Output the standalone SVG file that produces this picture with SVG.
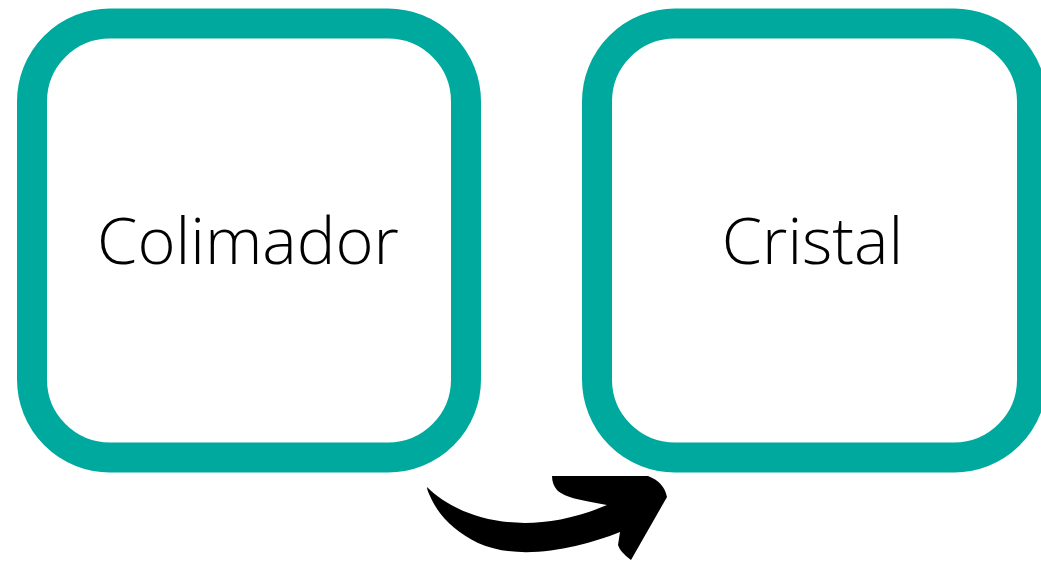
<svg xmlns="http://www.w3.org/2000/svg" width="1041" height="563" viewBox="0 0 1041 563">
<style>
.box{fill:#ffffff;stroke:#00A99D;stroke-width:30}
.lbl{font-family:"Open Sans","Liberation Sans",sans-serif;font-size:65px;font-weight:300;fill:#000;text-anchor:middle}
</style>
<rect width="1041" height="563" fill="#ffffff"/>
<g id="node-colimador">
<rect class="box" x="32" y="23.5" width="434" height="434" rx="78" ry="78"/>
<text class="lbl" x="248" y="264">Colimador</text>
</g>
<g id="node-cristal">
<rect class="box" x="597" y="23.5" width="435" height="434" rx="78" ry="78"/>
<text class="lbl" x="812.5" y="264">Cristal</text>
</g>
<g id="connectors">
<path d="M 427,487 C 458,518 525,540 607,505 C 585,501 565,498 557,490 Q 552,484 552,476 L 648,476 Q 664,482 667,497 L 631,560 Q 620,552 618,545 L 620,532 C 580,548 520,562 478,543 C 455,532 438,515 430,496 Q 427,490 427,487 Z" fill="#000000"/>
</g>
</svg>
